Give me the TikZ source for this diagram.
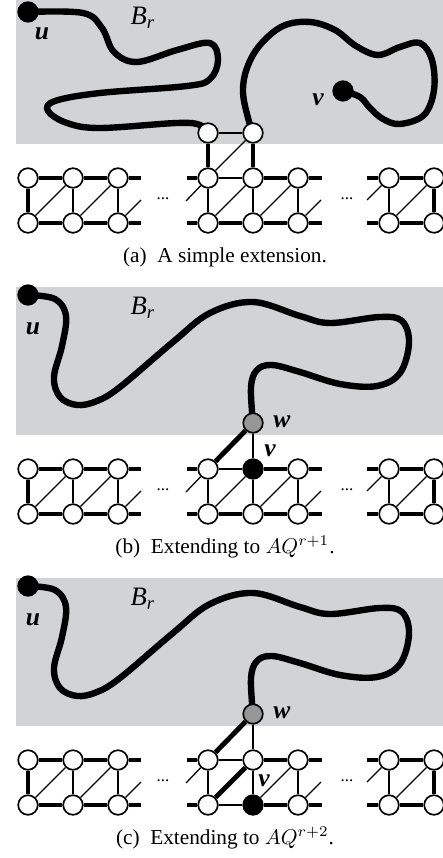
\documentclass[tikz,border=0pt]{standalone}
\usepackage{fontspec}
\setmainfont{Liberation Serif}
\usetikzlibrary{backgrounds}

\definecolor{regiongray}{RGB}{209,211,212}
\definecolor{wgray}{RGB}{150,150,150}

\tikzset{
    vtx/.style={
        draw,
        circle,
        fill=white,
        line width=0.8pt,
        inner sep=0pt,
        minimum size=9.2pt
    },
    vtxblack/.style={vtx, fill=black},
    vtxgray/.style={vtx, fill=wgray},
    thickedge/.style={line width=2.3pt},
    thinedge/.style={line width=0.6pt},
    walk/.style={line width=3pt, line cap=round, line join=round},
    lbl/.style={inner sep=0pt, font=\fontsize{12}{14}\selectfont\bfseries\itshape},
    capt/.style={inner sep=0pt, font=\fontsize{10}{12}\selectfont}
}

\begin{document}
\begin{tikzpicture}[x=0.47pt, y=-0.47pt]
\useasboundingbox (0,0) rectangle (443,858);

% the ladder, the same in all three panels
\foreach \p/\dy/\vup/\vdn in {a/0/vtx/vtx, b/291/vtxblack/vtx, c/582/vtx/vtxblack} {
  \begin{scope}[shift={(0,\dy)}]
    \begin{scope}[on background layer]
      \fill[regiongray] (16,-4) rectangle (450,144);
    \end{scope}
		\path
			node[vtx] at (28,178) (\p-t1) {}
			node[vtx] at (73,178) (\p-t2) {}
			node[vtx] at (118,178) (\p-t3) {}
			node[vtx] at (208,178) (\p-t4) {}
			node[\vup] at (253,178) (\p-t5) {}
			node[vtx] at (298,178) (\p-t6) {}
			node[vtx] at (389,178) (\p-t7) {}
			node[vtx] at (434,178) (\p-t8) {}
			;
		\path
			node[vtx] at (28,223) (\p-s1) {}
			node[vtx] at (73,223) (\p-s2) {}
			node[vtx] at (118,223) (\p-s3) {}
			node[vtx] at (208,223) (\p-s4) {}
			node[\vdn] at (253,223) (\p-s5) {}
			node[vtx] at (298,223) (\p-s6) {}
			node[vtx] at (389,223) (\p-s7) {}
			node[vtx] at (434,223) (\p-s8) {}
			;
		\coordinate (\p-e1) at (141,178);
		\coordinate (\p-e2) at (141,223);
		\coordinate (\p-e3) at (141,200);
		\coordinate (\p-f1) at (187,178);
		\coordinate (\p-f2) at (187,223);
		\coordinate (\p-f3) at (186,201);
		\coordinate (\p-g1) at (322,178);
		\coordinate (\p-g2) at (322,223);
		\coordinate (\p-g3) at (321,200);
		\coordinate (\p-h1) at (367,178);
		\coordinate (\p-h2) at (367,223);
		\coordinate (\p-h3) at (367,200);
		\path node[capt] at (163,199) (\p-dots1) {\footnotesize ...}
			node[capt] at (347,199) (\p-dots2) {\footnotesize ...};

		\path [thickedge]
			(\p-t1) edge (\p-t2)
			(\p-t2) edge (\p-t3)
			(\p-t3) edge (\p-e1)
			(\p-s1) edge (\p-s2)
			(\p-s2) edge (\p-s3)
			(\p-s3) edge (\p-e2)
			(\p-t1) edge (\p-s1)
			(\p-f1) edge (\p-t4)
			(\p-t5) edge (\p-t6)
			(\p-t6) edge (\p-g1)
			(\p-f2) edge (\p-s4)
			(\p-s5) edge (\p-s6)
			(\p-s6) edge (\p-g2)
			(\p-h1) edge (\p-t7)
			(\p-t7) edge (\p-t8)
			(\p-h2) edge (\p-s7)
			(\p-s7) edge (\p-s8)
			(\p-t8) edge (\p-s8)
			;
		\path [thinedge]
			(\p-t2) edge (\p-s2)
			(\p-t3) edge (\p-s3)
			(\p-s1) edge (\p-t2)
			(\p-s2) edge (\p-t3)
			(\p-s3) edge (\p-e3)
			(\p-f3) edge (\p-t4)
			(\p-t4) edge (\p-t5)
			(\p-t4) edge (\p-s4)
			(\p-t5) edge (\p-s5)
			(\p-t6) edge (\p-s6)
			(\p-s5) edge (\p-t6)
			(\p-s6) edge (\p-g3)
			(\p-h3) edge (\p-t7)
			(\p-t7) edge (\p-s7)
			(\p-s7) edge (\p-t8)
			;
  \end{scope}
}

% (a) a simple extension
		\path
			node[vtxblack] at (28,12) (a-u) {}
			node[vtxblack] at (343,91) (a-v) {}
			node[vtx] at (208,133) (a-n1) {}
			node[vtx] at (253,133) (a-n2) {}
			node[lbl] at (42,34) (a-ulbl) {u}
			node[lbl] at (318,100) (a-vlbl) {v}
			node[capt, font=\fontsize{12.5}{14}\selectfont\itshape] at (143,18) (a-br) {B\textsubscript{r}}
			node[capt] at (225,257) (a-cap) {(a)~~A simple extension.}
			;
		\path [thickedge]
			(a-n1) edge (a-t4)
			(a-n2) edge (a-t5)
			(a-s4) edge (a-s5)
			;
		\path [thinedge]
			(a-n1) edge (a-n2)
			(a-t4) edge (a-n2)
			(a-s4) edge (a-t5)
			;
		\begin{scope}[on background layer]
		\draw[walk] plot[smooth, tension=0.6] coordinates {(a-u) (83,13) (102,28) (114,52) (137,62) (177,50)
			(210,43) (218,60) (210,79) (187,86) (100,93) (55,101) (48,111) (67,123) (100,128) (177,123) (200,125) (a-n1)};
		\draw[walk] plot[smooth, tension=0.6] coordinates {(a-n2) (248,118) (243,92) (247,68) (260,45) (283,26)
			(310,22) (335,30) (356,46) (378,55) (400,47) (420,43) (432,60) (434,90) (424,115) (400,124) (383,119)
			(370,108) (360,97) (a-v)};
		\end{scope}

% (b) and (c) share the walk from u to w
\foreach \p/\dy in {b/291, c/582} {
  \begin{scope}[shift={(0,\dy)}]
		\path
			node[vtxblack] at (28,4) (\p-u) {}
			node[vtxgray] at (253,132) (\p-w) {}
			node[lbl] at (33,38) (\p-ulbl) {u}
			node[lbl] at (282,131) (\p-wlbl) {w}
			node[capt, font=\fontsize{12.5}{14}\selectfont\itshape] at (143,17) (\p-br) {B\textsubscript{r}}
			;
		\path [thickedge] (\p-w) edge (\p-t4);
		\path [thinedge] (\p-w) edge (\p-t5);
		\begin{scope}[on background layer]
		\draw[walk] plot[smooth, tension=0.6] coordinates {(\p-u) (55,8) (66,25) (62,55) (54,86) (60,106) (77,114)
			(97,110) (120,96) (173,51) (210,22) (253,11) (300,25) (330,32) (380,26) (402,30) (409,52) (400,82)
			(377,95) (340,93) (300,81) (272,74) (257,79) (251,96) (\p-w)};
		\end{scope}
  \end{scope}
}

% (b) extending to AQ^{r+1}
		\path
			node[lbl] at (270,451) (b-vlbl) {v}
			node[capt] at (225,547) (b-cap) {(b)~~Extending to $AQ^{r+1}$.}
			;
		\path [thickedge] (b-s4) edge (b-s5);
		\path [thinedge] (b-s4) edge (b-t5);

% (c) extending to AQ^{r+2}
		\path
			node[lbl] at (264,781) (c-vlbl) {v}
			node[capt] at (225,838) (c-cap) {(c)~~Extending to $AQ^{r+2}$.}
			;
		\path [thickedge] (c-s4) edge (c-t5);
		\path [thinedge] (c-s4) edge (c-s5);
\end{tikzpicture}
\end{document}
